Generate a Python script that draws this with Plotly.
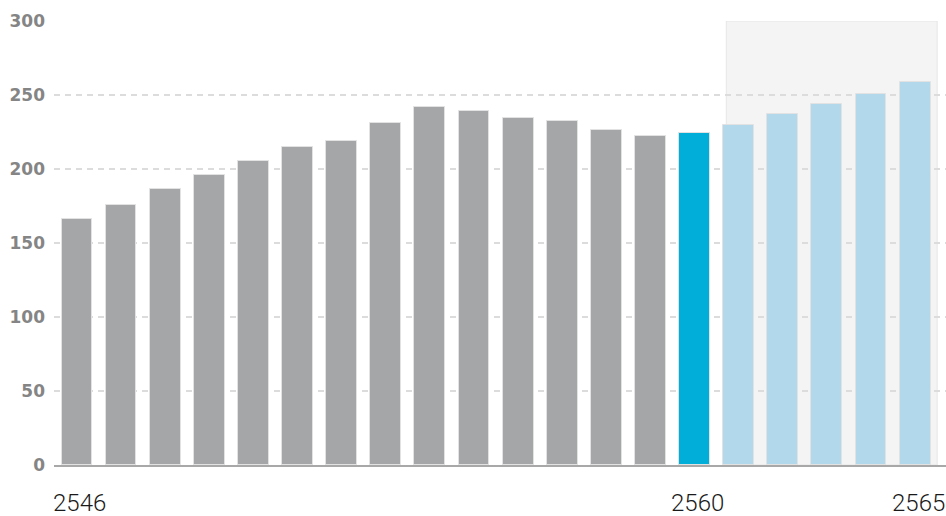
import plotly.graph_objects as go

# Annual values, Buddhist-era years 2546-2565
years = list(range(2546, 2566))
values = [166, 176, 186.5, 196, 205.5, 215, 219, 231, 242, 239,
          234.5, 232.5, 226.5, 222, 224.5, 230, 237.5, 244, 251, 258.5]

# Colour groups: history (grey), current year (blue), projection (light blue)
current_year = 2560
colors = []
for y in years:
    if y < current_year:
        colors.append("#a5a6a8")
    elif y == current_year:
        colors.append("#00aed9")
    else:
        colors.append("#b1d8eb")

# Labelled years along the bottom
x_label_years = [2546, 2560, 2565]
y_tick_vals = [0, 50, 100, 150, 200, 250, 300]

fig = go.Figure()
fig.add_trace(go.Bar(
    x=years,
    y=values,
    width=0.7,
    marker=dict(color=colors, line=dict(color="#e2e2e2", width=1)),
    hoverinfo="x+y",
))

# Shaded background behind the projection years
fig.add_shape(
    type="rect", xref="x", yref="y",
    x0=current_year + 0.72, x1=years[-1] + 0.5, y0=0, y1=300,
    fillcolor="#f4f4f4", line=dict(color="#e6e6e6", width=1),
    layer="below",
)

# Year labels under the axis
for yr in x_label_years:
    fig.add_annotation(
        x=yr, y=0, xref="x", yref="y",
        text=str(yr), showarrow=False,
        xanchor="center", yanchor="top",
        xshift=3, yshift=-22,
        font=dict(family="Roboto", size=24, color="#1a1a1a", weight=300),
    )

fig.update_layout(
    width=946, height=516,
    margin=dict(l=54, r=0, t=21, b=51, autoexpand=False),
    paper_bgcolor="white", plot_bgcolor="white",
    showlegend=False,
    bargap=0,
    xaxis=dict(
        range=[2545.48, 2565.70],
        showticklabels=False,
        showgrid=False, zeroline=False,
        showline=True, linecolor="#a8a8a8", linewidth=2,
        ticks="", automargin=False,
    ),
    yaxis=dict(
        range=[0, 300],
        tickvals=y_tick_vals,
        tickfont=dict(family="DejaVu Sans", size=17, color="#858585", weight="bold"),
        showgrid=True, gridcolor="#dcdcdc", griddash="6px,5px", gridwidth=1.5,
        zeroline=False, showline=False,
        ticks="", ticklabelstandoff=8, automargin=False,
    ),
)

fig.write_html("out.html")
